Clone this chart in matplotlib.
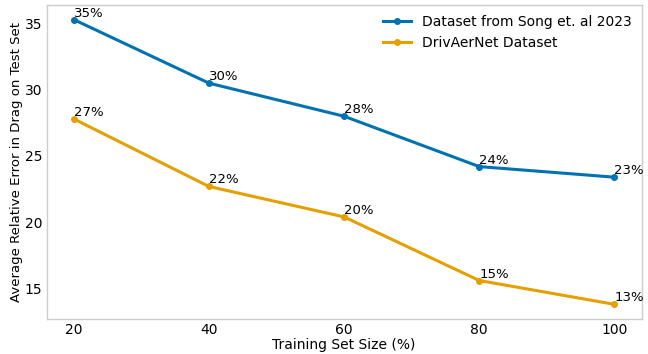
import numpy as np
import matplotlib.pyplot as plt

# -----------------------
# Data
# -----------------------
train_size = [20, 40, 60, 80, 100]
err_song   = [35.3, 30.5, 28.0, 24.2, 23.4]
err_drivaer = [27.8, 22.7, 20.4, 15.6, 13.8]

label_song   = "Dataset from Song et. al 2023"
label_drivaer = "DrivAerNet Dataset"

c_blue   = "#0072B2"
c_orange = "#E69F00"

# -----------------------
# Plot
# -----------------------
fig, ax = plt.subplots(figsize=(6.48, 3.54), dpi=100)

ax.plot(train_size, err_song, marker="o", markersize=4, lw=2.2, color=c_blue, label=label_song)
ax.plot(train_size, err_drivaer, marker="o", markersize=4, lw=2.2, color=c_orange, label=label_drivaer)

for x, y in zip(train_size, err_song):
    ax.text(x, y, f"{int(y)}%", ha="left", va="bottom", fontsize=9.5)
for x, y in zip(train_size, err_drivaer):
    ax.text(x, y, f"{int(y)}%", ha="left", va="bottom", fontsize=9.5)

ax.set_xticks(train_size)
ax.set_yticks([15, 20, 25, 30, 35])
ax.tick_params(length=0, labelsize=10, pad=3)
for s in ax.spines.values():
    s.set_color("#cccccc")
    s.set_linewidth(1.0)

ax.set_xlabel("Training Set Size (%)", fontsize=10, labelpad=1)
ax.set_ylabel("Average Relative Error in Drag on Test Set", fontsize=9.5, labelpad=1)
ax.legend(frameon=False, fontsize=10, loc="upper right", borderaxespad=0.3)

fig.subplots_adjust(left=0.072, right=0.99, top=0.985, bottom=0.1)
fig.savefig("out.png")
